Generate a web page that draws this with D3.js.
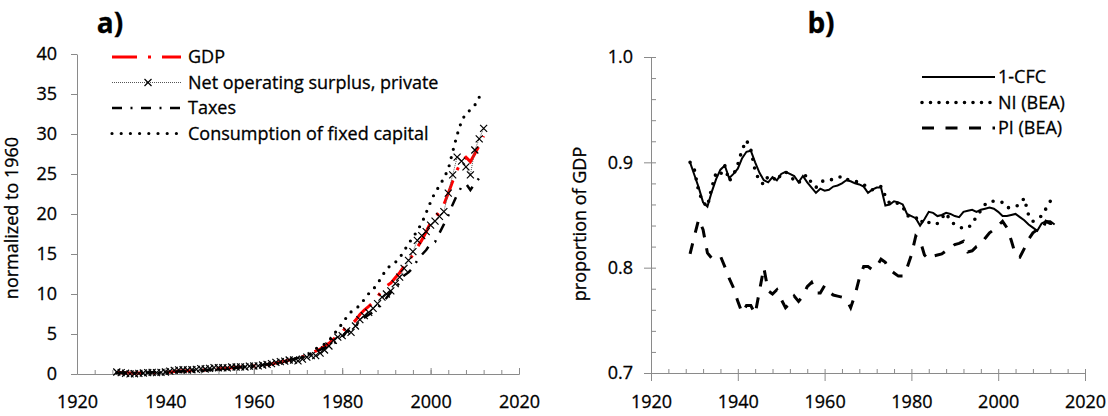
<!DOCTYPE html>
<html>
<head>
<meta charset="utf-8">
<script src="https://cdn.jsdelivr.net/npm/d3@7"></script>
<style>
  body { margin: 0; background: #fff; }
  svg text { font-family: "Open Sans", Lato, sans-serif; fill: #000; stroke: #000; stroke-width: 0.3px; }
</style>
</head>
<body>
<div class="canvas"></div>
<script>
// ---------- data, panel a (normalized to 1960) ----------
const yearsA = d3.range(1929, 2013);

const gdp = [
  0.193, 0.170, 0.142, 0.110, 0.105, 0.123, 0.137, 0.156, 0.171, 0.161,
  0.172, 0.189, 0.238, 0.306, 0.374, 0.413, 0.420, 0.419, 0.460, 0.506,
  0.502, 0.553, 0.639, 0.677, 0.717, 0.720, 0.784, 0.828, 0.874, 0.887,
  0.962, 1.000, 1.037, 1.114, 1.175, 1.262, 1.369, 1.500, 1.586, 1.735,
  1.877, 1.980, 2.149, 2.360, 2.629, 2.851, 3.109, 3.456, 3.839, 4.338,
  4.845, 5.269, 5.910, 6.157, 6.696, 7.437, 8.001, 8.449, 8.964, 9.668,
  10.41, 11.01, 11.36, 12.04, 12.66, 13.45, 14.11, 14.91, 15.84, 16.73,
  17.78, 18.93, 19.55, 20.21, 21.19, 22.59, 24.10, 25.50, 26.65, 27.09,
  26.54, 27.54, 28.56, 29.74
];

const netOpSurplus = [
  0.25, 0.17, 0.09, 0.02, 0.03, 0.08, 0.12, 0.17, 0.20, 0.17,
  0.20, 0.25, 0.35, 0.46, 0.52, 0.53, 0.50, 0.53, 0.58, 0.67,
  0.62, 0.70, 0.79, 0.78, 0.78, 0.76, 0.87, 0.87, 0.89, 0.87,
  0.98, 1.00, 1.02, 1.12, 1.20, 1.30, 1.45, 1.55, 1.60, 1.75,
  1.75, 1.65, 1.85, 2.10, 2.30, 2.30, 2.60, 3.00, 3.50, 4.20,
  4.60, 4.80, 5.40, 5.20, 6.00, 6.80, 7.30, 7.70, 8.20, 8.80,
  9.60, 10.0, 10.4, 11.3, 12.1, 13.2, 14.2, 15.3, 16.7, 17.3,
  17.8, 18.6, 19.1, 19.7, 20.3, 22.6, 24.9, 27.1, 26.6, 25.9,
  24.9, 28.0, 29.4, 30.7
];

const taxes = [
  0.16, 0.16, 0.15, 0.14, 0.16, 0.18, 0.19, 0.20, 0.21, 0.21,
  0.22, 0.24, 0.27, 0.29, 0.32, 0.35, 0.38, 0.42, 0.45, 0.48,
  0.50, 0.54, 0.57, 0.62, 0.66, 0.67, 0.72, 0.78, 0.83, 0.86,
  0.93, 1.00, 1.06, 1.14, 1.21, 1.30, 1.38, 1.43, 1.53, 1.70,
  1.86, 2.02, 2.23, 2.38, 2.58, 2.77, 3.03, 3.28, 3.52, 3.80,
  4.10, 4.55, 5.30, 5.50, 5.95, 6.55, 7.05, 7.40, 7.75, 8.30,
  8.85, 9.50, 10.2, 10.8, 11.4, 12.3, 12.7, 13.3, 14.2, 14.9,
  15.5, 16.3, 16.5, 17.6, 18.7, 19.8, 21.2, 22.4, 23.4, 23.8,
  23.0, 23.8, 24.5, 24.8
];

const fixedCapital = [
  0.152, 0.150, 0.139, 0.120, 0.117, 0.124, 0.125, 0.131, 0.139, 0.146,
  0.150, 0.158, 0.180, 0.217, 0.262, 0.325, 0.364, 0.386, 0.431, 0.454,
  0.462, 0.483, 0.548, 0.592, 0.638, 0.675, 0.698, 0.776, 0.853, 0.901,
  0.947, 1.000, 1.029, 1.079, 1.129, 1.192, 1.261, 1.394, 1.499, 1.653,
  1.818, 2.011, 2.132, 2.304, 2.567, 3.165, 3.427, 3.728, 4.172, 4.782,
  5.684, 6.265, 7.120, 7.757, 8.120, 8.608, 9.324, 10.05, 10.59, 11.27,
  12.21, 13.09, 13.60, 13.94, 14.55, 15.36, 16.33, 17.02, 17.96, 18.84,
  20.16, 21.50, 22.70, 23.50, 24.50, 25.60, 27.80, 29.90, 31.60, 32.60,
  33.00, 33.60, 34.60, 35.40
];

// ---------- data, panel b (proportion of GDP) ----------
const yearsB = d3.range(1929, 2014);

const oneMinusCfc = [
  0.900, 0.888, 0.876, 0.862, 0.858, 0.872, 0.884, 0.893, 0.897, 0.885,
  0.889, 0.894, 0.904, 0.910, 0.911, 0.900, 0.890, 0.883, 0.881, 0.886,
  0.883, 0.889, 0.891, 0.889, 0.887, 0.881, 0.887, 0.881, 0.876, 0.871,
  0.875, 0.873, 0.874, 0.877, 0.878, 0.880, 0.883, 0.882, 0.880, 0.879,
  0.877, 0.871, 0.874, 0.876, 0.876, 0.859, 0.860, 0.863, 0.862, 0.860,
  0.851, 0.849, 0.847, 0.840, 0.846, 0.853, 0.852, 0.849, 0.850, 0.852,
  0.851, 0.849, 0.848, 0.853, 0.854, 0.855, 0.853, 0.855, 0.856, 0.857,
  0.856, 0.853, 0.849, 0.849, 0.850, 0.851, 0.848, 0.845, 0.841, 0.838,
  0.835, 0.842, 0.844, 0.844, 0.841
];

const niBea = [
  0.900, 0.893, 0.872, 0.862, 0.858, 0.876, 0.890, 0.888, 0.897, 0.882,
  0.888, 0.898, 0.912, 0.921, 0.912, 0.892, 0.882, 0.879, 0.887, 0.886,
  0.882, 0.889, 0.891, 0.887, 0.883, 0.880, 0.886, 0.888, 0.880, 0.876,
  0.881, 0.883, 0.883, 0.884, 0.885, 0.887, 0.884, 0.883, 0.882, 0.881,
  0.879, 0.876, 0.874, 0.876, 0.877, 0.868, 0.861, 0.862, 0.861, 0.858,
  0.849, 0.849, 0.848, 0.842, 0.846, 0.843, 0.841, 0.842, 0.847, 0.852,
  0.844, 0.841, 0.839, 0.837, 0.838, 0.841, 0.849, 0.854, 0.860, 0.863,
  0.863, 0.862, 0.862, 0.857, 0.857, 0.858, 0.860, 0.866, 0.850, 0.844,
  0.847, 0.849, 0.856, 0.863, 0.863
];

const piBea = [
  0.813, 0.830, 0.846, 0.836, 0.814, 0.809, 0.811, 0.811, 0.801, 0.790,
  0.781, 0.768, 0.757, 0.764, 0.764, 0.756, 0.778, 0.800, 0.778, 0.775,
  0.779, 0.770, 0.762, 0.766, 0.773, 0.768, 0.773, 0.782, 0.786, 0.776,
  0.776, 0.783, 0.777, 0.774, 0.773, 0.772, 0.770, 0.762, 0.774, 0.790,
  0.801, 0.801, 0.798, 0.801, 0.808, 0.805, 0.798, 0.795, 0.792, 0.792,
  0.800, 0.812, 0.830, 0.826, 0.812, 0.808, 0.811, 0.812, 0.813, 0.816,
  0.818, 0.822, 0.823, 0.825, 0.815, 0.816, 0.820, 0.822, 0.828, 0.833,
  0.836, 0.840, 0.844, 0.838, 0.826, 0.812, 0.810, 0.818, 0.827, 0.833,
  0.836, 0.835, 0.844, 0.842, 0.842
];

// tick labels
const xMajor = [1920, 1940, 1960, 1980, 2000, 2020];
const xMinor = d3.range(1920, 2021, 4);
const yTicksA = [0, 5, 10, 15, 20, 25, 30, 35, 40];
const yTicksB = [0.7, 0.8, 0.9, 1.0];
const yMinorB = [0.72, 0.74, 0.76, 0.78, 0.82, 0.84, 0.86, 0.88, 0.92, 0.94, 0.96, 0.98];

const axisColor = '#8a8a8a';
const fontSize = 18;

const svg = d3.select('.canvas')
              .append('svg')
              .attr('width', 1108)
              .attr('height', 416);

// style an axis group: grey lines, black labels
const styleAxis = g => {
  g.select('.domain').attr('stroke', axisColor);
  g.selectAll('.tick line').attr('stroke', axisColor);
  g.selectAll('.tick text').attr('font-size', fontSize).attr('fill', '#000');
  g.attr('font-family', null);
};

// ================= panel a =================
const xA = d3.scaleLinear().domain([1920, 2020]).range([77, 519]);
const yA = d3.scaleLinear().domain([0, 40]).range([374, 54]);

svg.append('g')
   .attr('transform', `translate(${xA(1920)},0)`)
   .call(d3.axisLeft(yA).tickValues(yTicksA).tickSize(6).tickSizeOuter(0).tickPadding(14))
   .call(styleAxis);

// minor / major ticks pointing up, then labels below
svg.append('g')
   .attr('transform', `translate(0,${yA(0)})`)
   .call(d3.axisTop(xA).tickValues(xMinor).tickSize(4).tickSizeOuter(0).tickFormat(''))
   .call(styleAxis);
svg.append('g')
   .attr('transform', `translate(0,${yA(0)})`)
   .call(d3.axisTop(xA).tickValues(xMajor).tickSize(6).tickSizeOuter(0).tickFormat(''))
   .call(styleAxis);
svg.append('g')
   .attr('transform', `translate(0,${yA(0)})`)
   .call(d3.axisBottom(xA).tickValues(xMajor).tickSize(0).tickSizeOuter(0).tickPadding(21).tickFormat(d3.format('d')))
   .call(styleAxis)
   .call(g => g.select('.domain').remove());

const lineA = vals => d3.line()
  .x((d, i) => xA(yearsA[i]))
  .y(d => yA(d))(vals);

const plotA = svg.append('g');

// GDP, red long-dash-dot
plotA.append('path').attr('d', lineA(gdp))
     .attr('fill', 'none').attr('stroke', '#ff0000').attr('stroke-width', 3)
     .attr('stroke-dasharray', '25 11 3 11');

// Net operating surplus: thin dotted line with x markers
plotA.append('path').attr('d', lineA(netOpSurplus))
     .attr('fill', 'none').attr('stroke', '#555').attr('stroke-width', 1)
     .attr('stroke-dasharray', '1 1');
const cross = 'M-3.5,-3.5L3.5,3.5M-3.5,3.5L3.5,-3.5';
plotA.selectAll('path.nos')
     .data(netOpSurplus)
     .enter()
     .append('path')
     .attr('class', 'nos')
     .attr('d', cross)
     .attr('transform', (d, i) => `translate(${xA(yearsA[i])},${yA(d)})`)
     .attr('fill', 'none').attr('stroke', '#000').attr('stroke-width', 1.2);

// Taxes, black dash-dot
plotA.append('path').attr('d', lineA(taxes))
     .attr('fill', 'none').attr('stroke', '#000').attr('stroke-width', 2.5)
     .attr('stroke-dasharray', '10 8.5 2 8.5');

// Consumption of fixed capital, round dots
plotA.append('path').attr('d', lineA(fixedCapital))
     .attr('fill', 'none').attr('stroke', '#000').attr('stroke-width', 3.2)
     .attr('stroke-linecap', 'round')
     .attr('stroke-dasharray', '0 8.5');

// legend a
const legendA = [
  {label: 'GDP', stroke: '#ff0000', width: 3, dash: '25 11 3 11'},
  {label: 'Net operating surplus, private', stroke: '#555', width: 1, dash: '1 1', marker: true},
  {label: 'Taxes', stroke: '#000', width: 2.5, dash: '10 8.5 2 8.5'},
  {label: 'Consumption of fixed capital', stroke: '#000', width: 3.2, dash: '0 9.2', cap: 'round'}
];
legendA.forEach((item, i) => {
  const ly = 57 + i * 25.5;
  svg.append('line')
     .attr('x1', 112).attr('x2', 181).attr('y1', ly).attr('y2', ly)
     .attr('stroke', item.stroke).attr('stroke-width', item.width)
     .attr('stroke-dasharray', item.dash)
     .attr('stroke-linecap', item.cap || 'butt');
  if (item.marker) {
    svg.append('path').attr('d', cross)
       .attr('transform', `translate(148,${ly})`)
       .attr('fill', 'none').attr('stroke', '#000').attr('stroke-width', 1.2);
  }
  svg.append('text')
     .attr('x', 188).attr('y', ly).attr('dy', '0.35em')
     .attr('font-size', fontSize)
     .text(item.label);
});

svg.append('text')
   .attr('transform', 'translate(18,218) rotate(-90)')
   .attr('text-anchor', 'middle')
   .attr('font-size', fontSize)
   .text('normalized to 1960');

svg.append('text')
   .attr('x', 110).attr('y', 33)
   .attr('text-anchor', 'middle')
   .attr('font-size', 28).attr('font-weight', 'bold')
   .text('a)');

// ================= panel b =================
const xB = d3.scaleLinear().domain([1920, 2020]).range([651, 1085]);
const yB = d3.scaleLinear().domain([0.7, 1.0]).range([373, 57]);

svg.append('g')
   .attr('transform', `translate(${xB(1920)},0)`)
   .call(d3.axisRight(yB).tickValues(yMinorB.concat(yTicksB)).tickSize(5).tickSizeOuter(0).tickFormat(''))
   .call(styleAxis);
svg.append('g')
   .attr('transform', `translate(${xB(1920)},0)`)
   .call(d3.axisLeft(yB).tickValues(yTicksB).tickSize(7).tickSizeOuter(0).tickPadding(11).tickFormat(d3.format('.1f')))
   .call(styleAxis);

svg.append('g')
   .attr('transform', `translate(0,${yB(0.7)})`)
   .call(d3.axisTop(xB).tickValues(xMinor).tickSize(4).tickSizeOuter(0).tickFormat(''))
   .call(styleAxis);
svg.append('g')
   .attr('transform', `translate(0,${yB(0.7)})`)
   .call(d3.axisBottom(xB).tickValues(xMajor).tickSize(8).tickSizeOuter(0).tickPadding(14).tickFormat(d3.format('d')))
   .call(styleAxis);

const lineB = vals => d3.line()
  .x((d, i) => xB(yearsB[i]))
  .y(d => yB(d))(vals);

const plotB = svg.append('g');
plotB.append('path').attr('d', lineB(oneMinusCfc))
     .attr('fill', 'none').attr('stroke', '#000').attr('stroke-width', 2);
plotB.append('path').attr('d', lineB(niBea))
     .attr('fill', 'none').attr('stroke', '#000').attr('stroke-width', 3.6)
     .attr('stroke-linecap', 'round')
     .attr('stroke-dasharray', '0 9');
plotB.append('path').attr('d', lineB(piBea))
     .attr('fill', 'none').attr('stroke', '#000').attr('stroke-width', 3)
     .attr('stroke-dasharray', '11 11');

// legend b
const legendB = [
  {label: '1-CFC', width: 2, dash: null},
  {label: 'NI (BEA)', width: 3.6, dash: '0 8.5', cap: 'round'},
  {label: 'PI (BEA)', width: 3, dash: '12 11.5'}
];
legendB.forEach((item, i) => {
  const ly = 77 + i * 25.5;
  svg.append('line')
     .attr('x1', 922).attr('x2', 995).attr('y1', ly).attr('y2', ly)
     .attr('stroke', '#000').attr('stroke-width', item.width)
     .attr('stroke-dasharray', item.dash)
     .attr('stroke-linecap', item.cap || 'butt');
  svg.append('text')
     .attr('x', 998).attr('y', ly).attr('dy', '0.35em')
     .attr('font-size', fontSize)
     .text(item.label);
});

svg.append('text')
   .attr('transform', 'translate(586,224) rotate(-90)')
   .attr('text-anchor', 'middle')
   .attr('font-size', fontSize)
   .text('proportion of GDP');

svg.append('text')
   .attr('x', 821).attr('y', 33)
   .attr('text-anchor', 'middle')
   .attr('font-size', 28).attr('font-weight', 'bold')
   .text('b)');
</script>
</body>
</html>
